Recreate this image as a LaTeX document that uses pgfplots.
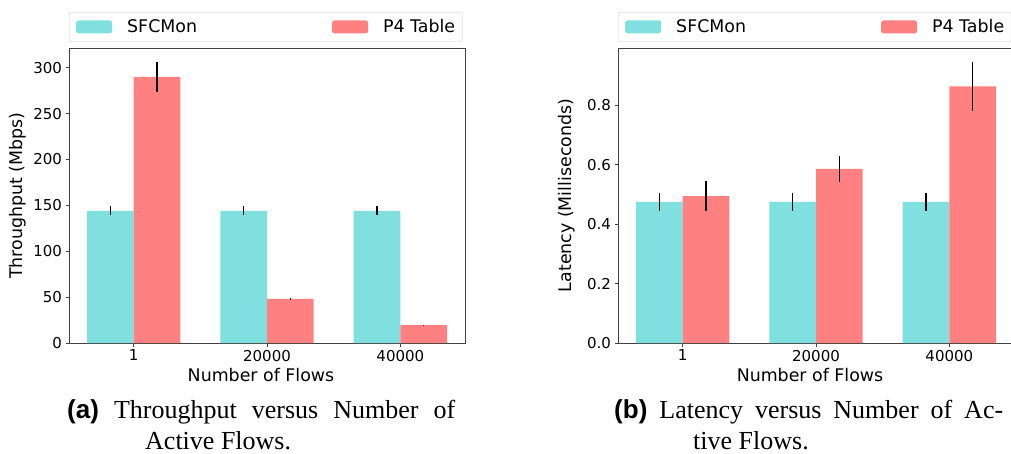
\documentclass[border=0pt]{standalone}
\usepackage{fontspec}
\setmainfont{DejaVu Sans}
\newfontfamily\capserif{Liberation Serif}
\newfontfamily\capsans{Liberation Sans}
\usepackage{pgfplots}
\pgfplotsset{compat=1.18}
\definecolor{sfc}{HTML}{80DFDF}
\definecolor{ptab}{HTML}{FF8080}

\pgfplotsset{
  flowbars/.style={
    ybar, scale only axis, width=396pt, height=295pt,
    bar width=0.35, xmin=-0.485, xmax=2.485, ymin=0,
    xtick={0,1,2}, xticklabels={1,20000,40000},
    tick align=outside, major tick length=3.5pt,
    xtick pos=bottom, ytick pos=left,
    axis line style={black!75, line width=0.8pt},
    tick style={black!75, line width=0.8pt},
    /pgf/number format/assume math mode=true,
    tick label style={font=\fontsize{15}{18}\selectfont},
    label style={font=\fontsize{17.4}{21}\selectfont},
    xlabel={Number of Flows},
    xlabel style={at={(axis description cs:0.5,-0.131)}, anchor=base, xshift=-6pt},
    ylabel style={at={(axis description cs:-0.129,0.5)}, anchor=center},
    legend columns=2,
    legend style={at={(axis description cs:0,1)}, anchor=south west, yshift=6pt,
      draw=black!18, rounded corners=2.5pt, font=\fontsize{17.4}{21}\selectfont,
      inner xsep=7pt, inner ysep=7.5pt, nodes={inner sep=0pt},
      /tikz/every odd column/.append style={column sep=15pt},
      /tikz/every even column/.append style={column sep=135pt}},
    error bars/y dir=both, error bars/y explicit, error bars/error mark=none,
    error bars/error bar style={black, line width=1.5pt},
  }
}

\begin{document}
\begin{tikzpicture}
\path[use as bounding box] (0,0) rectangle (1011pt,453pt);

% (a) throughput
\begin{axis}[flowbars, at={(69pt,110pt)}, anchor=south west,
  ymax=321.5, ytick={0,50,...,300}, ylabel={Throughput (Mbps)},
  legend image code/.code={\fill[#1] (0pt,-6.5pt) rectangle (36pt,6.5pt);}]
\addplot[fill=sfc, draw=none, bar shift=-0.175] coordinates {
  (0,144) +- (0,5) (1,144) +- (0,5) (2,144) +- (0,5)};
\addplot[fill=ptab, draw=none, bar shift=0.175] coordinates {
  (0,290) +- (0,16.5) (1,48) +- (0,0.5) (2,19.5) +- (0,0.3)};
\legend{SFCMon, P4 Table}
\end{axis}

% (b) latency
\begin{axis}[flowbars, at={(618pt,110pt)}, anchor=south west,
  ymax=0.993, ytick={0,0.2,...,0.8}, ylabel={Latency (Milliseconds)},
  yticklabel style={/pgf/number format/.cd, fixed, fixed zerofill, precision=1},
  legend image code/.code={\fill[#1] (0pt,-6.5pt) rectangle (36pt,6.5pt);}]
\addplot[fill=sfc, draw=none, bar shift=-0.175] coordinates {
  (0,0.475) +- (0,0.031) (1,0.475) +- (0,0.031) (2,0.475) +- (0,0.031)};
\addplot[fill=ptab, draw=none, bar shift=0.175] coordinates {
  (0,0.494) +- (0,0.05) (1,0.586) +- (0,0.043) (2,0.864) +- (0,0.082)};
\legend{SFCMon, P4 Table}
\end{axis}

% captions
\begin{scope}[every node/.style={inner sep=0pt, anchor=base west,
    font=\capserif\fontsize{26}{30}\selectfont}]
\node at (67pt,35pt) {\makebox[388pt][s]{{\capsans\bfseries (a)} Throughput versus Number of}};
\node at (145pt,4pt) {Active Flows.};
\node at (614pt,35pt) {\makebox[389pt][s]{{\capsans\bfseries (b)} Latency versus Number of Ac-}};
\node at (693pt,4pt) {tive Flows.};
\end{scope}
\end{tikzpicture}
\end{document}
